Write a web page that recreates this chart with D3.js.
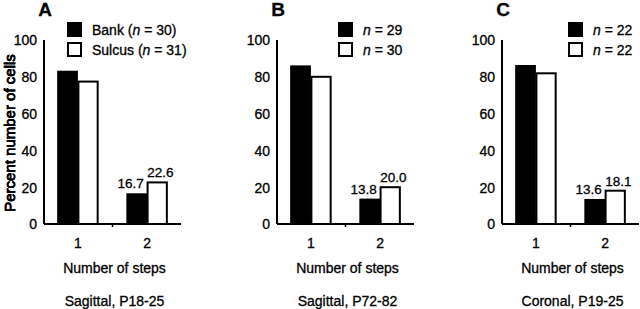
<!DOCTYPE html>
<html lang="en">
<head>
    <meta charset="UTF-8">
    <title>Number of steps</title>
    <script src="https://d3js.org/d3.v7.min.js"></script>
    <style>
        body { margin: 0; background: #fff; font-family: "Liberation Sans", Arial, sans-serif; }
        svg text { fill: #000; stroke: #000; stroke-width: 0.3px; }
    </style>
</head>
<body>
    <div id="chart"></div>

    <script>
        const width = 640, height = 309;

        // Data
        const categories = ["1", "2"];
        const seriesKeys = ["black", "white"];
        const panelLetters = ["A", "B", "C"];
        const captions = ["Sagittal, P18-25", "Sagittal, P72-82", "Coronal, P19-25"];
        const blackValues = [[83.3, 16.7], [86.2, 13.8], [86.4, 13.6]];
        const whiteValues = [[77.4, 22.6], [80.0, 20.0], [81.9, 18.1]];
        const blackN = [30, 29, 22];
        const whiteN = [31, 30, 22];
        const groupNames = [["Bank", "Sulcus"], null, null];
        const yTicks = [0, 20, 40, 60, 80, 100];

        // Layout (pixel positions per panel)
        const axisLeft = [44, 277, 502];
        const legendLeft = [67, 338, 568];
        const axisLen = 137;
        const yTop = 40, yBottom = 224;

        const svg = d3.select("#chart").append("svg")
            .attr("width", width).attr("height", height);

        const y = d3.scaleLinear().domain([0, 100]).range([yBottom, yTop]);

        panelLetters.forEach((letter, i) => {
            const x0 = axisLeft[i];
            const g = svg.append("g").attr("transform", `translate(${x0},0)`);

            const x = d3.scaleBand().domain(categories).range([0, axisLen])
                .paddingInner(0.4).paddingOuter(0.19);
            const xs = d3.scaleBand().domain(seriesKeys).range([0, x.bandwidth()]);

            const rows = categories.map((c, j) => ({
                cat: c,
                values: [
                    { key: "black", v: blackValues[i][j] },
                    { key: "white", v: whiteValues[i][j] }
                ]
            }));

            // Bars
            const grp = g.selectAll(".grp").data(rows).enter().append("g")
                .attr("transform", d => `translate(${x(d.cat)},0)`);
            grp.selectAll("rect").data(d => d.values).enter().append("rect")
                .attr("x", d => xs(d.key) + (d.key === "white" ? 0.5 : 0))
                .attr("y", d => y(d.v))
                .attr("width", d => xs.bandwidth() - (d.key === "white" ? 1.5 : 0))
                .attr("height", d => y(0) - y(d.v))
                .attr("fill", d => d.key === "black" ? "#000" : "#fff")
                .attr("stroke", d => d.key === "black" ? "none" : "#000")
                .attr("stroke-width", 2);

            // Value labels on category 2 only
            grp.filter(d => d.cat === "2").selectAll(".val").data(d => d.values).enter()
                .append("text")
                .attr("x", d => xs(d.key) + xs.bandwidth() / 2 + (d.key === "black" ? -6 : 3))
                .attr("y", d => y(d.v) - 5)
                .attr("text-anchor", "middle")
                .attr("font-size", 13.5)
                .text(d => d.v.toFixed(1));

            // Y axis: line and labels only
            g.append("line")
                .attr("x1", 0).attr("x2", 0)
                .attr("y1", y(100)).attr("y2", y(0))
                .attr("stroke", "#000").attr("stroke-width", 2);
            g.selectAll(".ytick").data(yTicks).enter().append("text")
                .attr("x", -7).attr("y", d => y(d))
                .attr("dy", "0.38em")
                .attr("text-anchor", "end")
                .attr("font-size", 14)
                .text(d => d);

            // X axis
            g.append("line")
                .attr("x1", 0).attr("x2", axisLen)
                .attr("y1", y(0)).attr("y2", y(0))
                .attr("stroke", "#000").attr("stroke-width", 2);
            const step = x.step();
            g.append("line")
                .attr("x1", x("2") - (step - x.bandwidth()) / 2)
                .attr("x2", x("2") - (step - x.bandwidth()) / 2)
                .attr("y1", y(0)).attr("y2", y(0) + 3)
                .attr("stroke", "#000").attr("stroke-width", 1.5);
            g.selectAll(".xtick").data(categories).enter().append("text")
                .attr("x", d => x(d) + x.bandwidth() / 2)
                .attr("y", 248)
                .attr("text-anchor", "middle")
                .attr("font-size", 14)
                .text(d => d);

            g.append("text")
                .attr("x", axisLen / 2 + 2).attr("y", 273)
                .attr("text-anchor", "middle")
                .attr("font-size", 14)
                .text("Number of steps");
            g.append("text")
                .attr("x", axisLen / 2 + 2).attr("y", 306)
                .attr("text-anchor", "middle")
                .attr("font-size", 14)
                .text(captions[i]);

            // Y label
            g.append("text")
                .attr("transform", "rotate(-90)")
                .attr("x", -133).attr("y", -x0 + 15)
                .attr("text-anchor", "middle")
                .attr("font-size", 15)
                .text("Percent number of cells");

            // Panel letter
            g.append("text")
                .attr("x", 1).attr("y", 16)
                .attr("text-anchor", "middle")
                .attr("font-size", 19)
                .attr("font-weight", "bold")
                .text(letter);

            // Legend
            const lg = svg.append("g").attr("transform", `translate(${legendLeft[i]},0)`);
            const legendRows = [
                { key: "black", n: blackN[i], name: groupNames[i] ? groupNames[i][0] : null },
                { key: "white", n: whiteN[i], name: groupNames[i] ? groupNames[i][1] : null }
            ];
            legendRows.forEach((r, k) => {
                const top = 22 + k * 20;
                lg.append("rect")
                    .attr("x", r.key === "white" ? 1 : 0).attr("y", top + (r.key === "white" ? 1 : 0))
                    .attr("width", r.key === "white" ? 13 : 15)
                    .attr("height", r.key === "white" ? 13 : 15)
                    .attr("fill", r.key === "black" ? "#000" : "#fff")
                    .attr("stroke", r.key === "black" ? "none" : "#000")
                    .attr("stroke-width", 2);
                const t = lg.append("text")
                    .attr("x", 25).attr("y", top + 13)
                    .attr("font-size", 14);
                if (r.name) t.append("tspan").text(r.name + " (");
                t.append("tspan").attr("font-style", "italic").text("n");
                t.append("tspan").text(" = " + r.n + (r.name ? ")" : ""));
            });
        });
    </script>
</body>
</html>
